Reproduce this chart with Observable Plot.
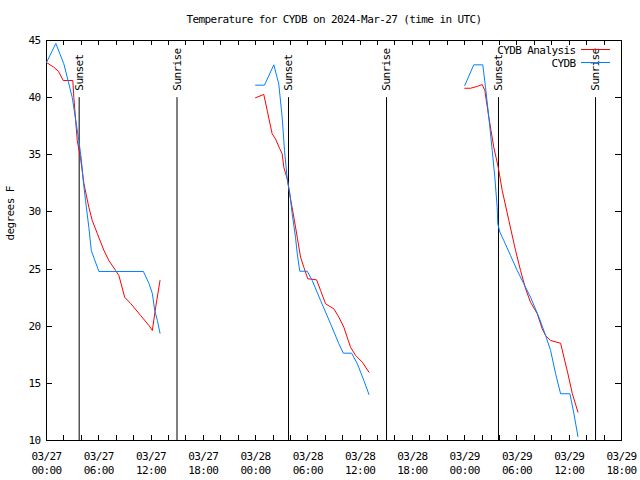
<!DOCTYPE html>
<html><head><meta charset="utf-8">
<script src="https://cdn.jsdelivr.net/npm/d3@7"></script>
<script src="https://cdn.jsdelivr.net/npm/@observablehq/plot@0.6"></script>
<style>body{margin:0;background:#fff} svg{display:block}</style>
</head><body><div id="chart"></div>
<script>
// Hours since 2024-03-27 00:00 UTC
const analysisHours = [0, 0.84, 1.38, 1.92, 3.02, 3.14, 3.53, 3.91, 4.29, 4.86, 5.25, 5.83, 6.59, 7.16, 7.93, 8.31, 8.97, 9.66, 10.81, 11.76, 12.15, 12.53, 13.03,
  24.0, 24.94, 25.33, 25.90, 26.28, 26.78, 27.05, 27.24, 27.63, 28.01, 28.39, 28.78, 29.16, 29.54, 29.99, 31.00, 31.46, 32.03, 32.98, 33.56, 34.13, 34.90, 35.48, 36.25, 37.01,
  48.01, 48.66, 49.43, 50.01, 50.31, 50.77, 51.34, 51.85, 52.31, 53.07, 53.84, 54.41, 54.99, 55.56, 56.33, 56.90, 57.29, 57.86, 59.01, 59.39, 59.85, 60.36, 61.0];
const analysisTemps = [43.08, 42.66, 42.3, 41.5, 41.5, 40.01, 36.25, 34.68, 32.49, 30.41, 29.25, 28.11, 26.63, 25.75, 24.88, 24.44, 22.54, 21.99, 20.94, 20.06, 19.63, 21.66, 24.0,
  39.99, 40.28, 38.88, 36.84, 36.4, 35.52, 35.09, 33.91, 32.9, 31.15, 29.54, 27.79, 26.04, 25.16, 24.15, 24.06, 23.13, 21.96, 21.52, 20.79, 19.91, 18.16, 17.44, 16.85, 15.98,
  40.82, 40.82, 40.98, 41.15, 40.63, 38.29, 35.66, 33.91, 31.88, 29.25, 26.63, 24.88, 23.27, 22.1, 21.09, 19.77, 19.19, 18.75, 18.51, 17.29, 15.84, 14.09, 12.48];

const obsHours = [0, 1.07, 1.99, 2.95, 3.71, 3.99, 4.22, 4.48, 4.86, 5.14, 6.01, 11.12, 11.76, 12.15, 12.42, 12.73, 13.03,
  24.0, 25.02, 26.09, 26.66, 27.05, 27.32, 27.63, 27.93, 28.20, 28.58, 28.78, 29.07, 29.93, 30.50, 31.46, 32.61, 33.56, 34.07, 35.02, 35.68, 36.43, 37.01,
  48.01, 49.04, 50.08, 50.39, 50.77, 51.16, 51.46, 51.73, 51.80, 52.04, 52.49, 53.26, 54.03, 54.79, 55.56, 56.52, 57.29, 57.86, 58.44, 59.01, 60.08, 60.54, 61.0];
const obsTemps = [43.08, 44.74, 42.96, 40.04, 36.25, 34.68, 32.75, 31.0, 28.66, 26.63, 24.79, 24.79, 23.74, 22.86, 21.38, 20.5, 19.39,
  41.09, 41.09, 42.87, 41.21, 38.29, 35.38, 32.9, 31.59, 29.84, 27.79, 26.34, 24.81, 24.81, 24.0, 22.25, 20.21, 18.46, 17.64, 17.64, 16.71, 15.25, 14.03,
  41.06, 42.87, 42.87, 40.91, 38.29, 35.38, 33.04, 30.41, 28.96, 28.23, 27.5, 26.19, 24.88, 23.71, 22.54, 20.79, 19.19, 17.88, 15.84, 14.09, 14.09, 12.34, 10.35];

const eventHours = [3.75, 14.98, 27.78, 39.03, 51.88, 63.02];
const eventNames = ["Sunset", "Sunrise", "Sunset", "Sunrise", "Sunset", "Sunrise"];

const labelHours = [0, 6, 12, 18, 24, 30, 36, 42, 48, 54, 60, 66];
const labelDates = ["03/27", "03/27", "03/27", "03/27", "03/28", "03/28", "03/28", "03/28", "03/29", "03/29", "03/29", "03/29"];
const labelTimes = ["00:00", "06:00", "12:00", "18:00", "00:00", "06:00", "12:00", "18:00", "00:00", "06:00", "12:00", "18:00"];
const minorHours = d3.range(0, 67, 2);
const yTicks = [10, 15, 20, 25, 30, 35, 40, 45];

const seriesNames = ["CYDB Analysis", "CYDB"];
const seriesColors = ["#ff0000", "#0080ff"];
const title = "Temperature for CYDB on 2024-Mar-27 (time in UTC)";
const yLabel = "degrees F";

const analysis = analysisHours.map((h, i) => ({h, t: analysisTemps[i], seg: Math.floor(h / 24)}));
const obs = obsHours.map((h, i) => ({h, t: obsTemps[i], seg: Math.floor(h / 24)}));
const events = eventHours.map((h, i) => ({h, name: eventNames[i]}));
const labelMap = new Map(labelHours.map((h, i) => [h, labelDates[i] + "\n" + labelTimes[i]]));

// inward tick marks on all four sides, placed through the plot's scales
const innerTicks = (index, scales, values, dims) => {
  const g = d3.create("svg:g").attr("class", "inner-ticks");
  const top = dims.marginTop, bottom = dims.height - dims.marginBottom;
  const left = dims.marginLeft, right = dims.width - dims.marginRight;
  const add = (x1, y1, x2, y2) => g.append("line")
    .attr("x1", x1).attr("y1", y1).attr("x2", x2).attr("y2", y2)
    .attr("stroke", "#000").attr("stroke-width", 1);
  for (const h of minorHours) {
    const x = Math.round(scales.x(h)) + 0.5;
    add(x, bottom, x, bottom - 5);
    add(x, top, x, top + 5);
  }
  for (const v of yTicks) {
    const y = Math.round(scales.y(v)) + 0.5;
    add(left, y, left + 6, y);
    add(right, y, right - 6, y);
  }
  return g.node();
};

const legendLines = (index, scales, values, dims) => {
  const g = d3.create("svg:g");
  const x2 = dims.width - dims.marginRight - 11;
  seriesColors.forEach((c, i) => {
    const y = dims.marginTop + 9.5 + i * 13;
    g.append("line").attr("x1", x2 - 29).attr("x2", x2).attr("y1", y).attr("y2", y)
      .attr("stroke", c).attr("stroke-width", 1);
  });
  return g.node();
};

const chart = Plot.plot({
  width: 640, height: 480,
  marginLeft: 46, marginRight: 19, marginTop: 40, marginBottom: 40,
  style: {fontFamily: "'DejaVu Sans Mono', monospace", fontSize: "11px", background: "#fff", color: "#000", letterSpacing: "-0.6px"},
  x: {domain: [0, 66], label: null},
  y: {domain: [10, 45], label: null},
  marks: [
    Plot.frame({stroke: "#000"}),
    innerTicks,
    Plot.axisX({anchor: "bottom", ticks: labelHours, tickSize: 0, tickPadding: 9, tickFormat: d => labelMap.get(d), lineHeight: 1.3, label: null}),
    Plot.axisY({anchor: "left", ticks: yTicks, tickSize: 0, tickPadding: 6, label: null}),
    Plot.ruleX(events, {x: "h", y1: 10, y2: 40, stroke: "#000"}),
    Plot.text(events, {x: "h", y: 40, text: "name", rotate: -90, textAnchor: "start", dy: -7}),
    Plot.line(analysis, {x: "h", y: "t", z: "seg", stroke: seriesColors[0], strokeWidth: 1}),
    Plot.line(obs, {x: "h", y: "t", z: "seg", stroke: seriesColors[1], strokeWidth: 1}),
    Plot.text([title], {frameAnchor: "top", lineAnchor: "middle", dy: -21}),
    Plot.text([yLabel], {frameAnchor: "left", dx: -36, rotate: -90}),
    Plot.text([seriesNames[0]], {frameAnchor: "top-right", lineAnchor: "middle", dx: -46, dy: 9.5, textAnchor: "end"}),
    Plot.text([seriesNames[1]], {frameAnchor: "top-right", lineAnchor: "middle", dx: -46, dy: 22.5, textAnchor: "end"}),
    legendLines
  ]
});
document.getElementById("chart").append(chart);
</script>
</body></html>
